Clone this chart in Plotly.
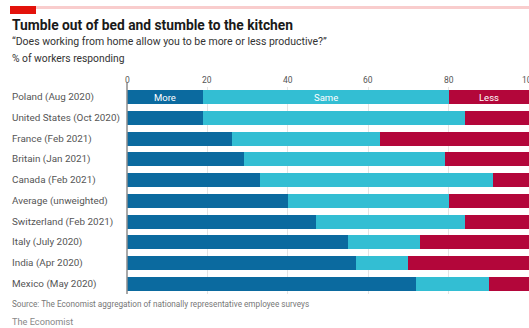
import plotly.graph_objects as go

categories = ["Poland (Aug 2020)", "United States (Oct 2020)", "France (Feb 2021)",
              "Britain (Jan 2021)", "Canada (Feb 2021)", "Average (unweighted)",
              "Switzerland (Feb 2021)", "Italy (July 2020)", "India (Apr 2020)",
              "Mexico (May 2020)"]
more = [19, 19, 26, 29, 33, 40, 47, 55, 57, 72]
same = [61, 65, 37, 50, 58, 40, 37, 18, 13, 18]
less = [20, 16, 37, 21, 9, 20, 16, 27, 30, 10]
series_names = ["More", "Same", "Less"]
x_ticks = [0, 20, 40, 60, 80, 100]

W, H = 529, 328
L, T, B = 127, 87, 34
colors = ["#0B6A9F", "#33BED3", "#B3063A"]
FONT = "Roboto"

fig = go.Figure()
for name, vals, col in zip(series_names, [more, same, less], colors):
    fig.add_trace(go.Bar(y=categories, x=vals, name=name, orientation="h",
                         marker=dict(color=col, line=dict(width=0)),
                         showlegend=False))

cum = 0
for name, vals in zip(series_names, [more, same, less]):
    fig.add_annotation(x=cum + vals[0] / 2, y=categories[0], text=name,
                       showarrow=False, font=dict(color="white", size=9.5, family=FONT),
                       xanchor="center", yanchor="middle")
    cum += vals[0]

pw = W - L
ph = H - T - B
def ytop(px):
    return 1 + (T - px) / ph
def xp(px):
    return (px - L) / pw

for c in categories:
    fig.add_annotation(x=xp(10), xref="paper", y=c, yref="y", text=c,
                       showarrow=False, xanchor="left", yanchor="middle",
                       font=dict(size=9.9, color="#555", family=FONT))

for t in x_ticks:
    fig.add_annotation(x=t, xref="x", y=ytop(80), yref="paper", text=str(t),
                       showarrow=False, xanchor="center", yanchor="middle",
                       font=dict(size=8.5, color="#555", family=FONT))

shapes = [
    dict(type="line", xref="paper", yref="paper", x0=0, x1=0, y0=0, y1=1.02,
         line=dict(color="#8C8C8C", width=1.5)),
    dict(type="rect", xref="paper", yref="paper", x0=xp(10), x1=1.0,
         y0=ytop(9), y1=ytop(6), fillcolor="#F9CDCD", line=dict(width=0)),
    dict(type="rect", xref="paper", yref="paper", x0=xp(10), x1=xp(36),
         y0=ytop(14), y1=ytop(6), fillcolor="#E3120B", line=dict(width=0)),
]

fig.update_layout(
    width=W, height=H, barmode="stack", bargap=0.32,
    margin=dict(l=L, r=0, t=T, b=B),
    plot_bgcolor="white", paper_bgcolor="white",
    xaxis=dict(side="top", range=[0, 100], tickvals=x_ticks, showticklabels=False,
               showgrid=True, gridcolor="#E4E4E4", gridwidth=1,
               zeroline=False, ticks="", fixedrange=True),
    yaxis=dict(autorange="reversed", showticklabels=False, ticks="",
               showgrid=False, zeroline=False, fixedrange=True),
    shapes=shapes,
)

fig.add_annotation(x=xp(10), xref="paper", y=ytop(25), yref="paper",
                   text="<b>Tumble out of bed and stumble to the kitchen</b>",
                   showarrow=False, xanchor="left", yanchor="middle",
                   font=dict(size=13.8, color="#1a1a1a", family=FONT))
fig.add_annotation(x=xp(10), xref="paper", y=ytop(42), yref="paper",
                   text="\u201cDoes working from home allow you to be more or less productive?\u201d",
                   showarrow=False, xanchor="left", yanchor="middle",
                   font=dict(size=10.5, color="#333", family=FONT))
fig.add_annotation(x=xp(10), xref="paper", y=ytop(58), yref="paper",
                   text="% of workers responding",
                   showarrow=False, xanchor="left", yanchor="middle",
                   font=dict(size=10.3, color="#333", family=FONT))
fig.add_annotation(x=xp(10), xref="paper", y=ytop(304), yref="paper",
                   text="Source: The Economist aggregation of nationally representative employee surveys",
                   showarrow=False, xanchor="left", yanchor="middle",
                   font=dict(size=8.2, color="#777", family=FONT))
fig.add_annotation(x=xp(10), xref="paper", y=ytop(321), yref="paper",
                   text="The Economist",
                   showarrow=False, xanchor="left", yanchor="middle",
                   font=dict(size=9.2, color="#888", family=FONT))

fig.write_html("out.html")
